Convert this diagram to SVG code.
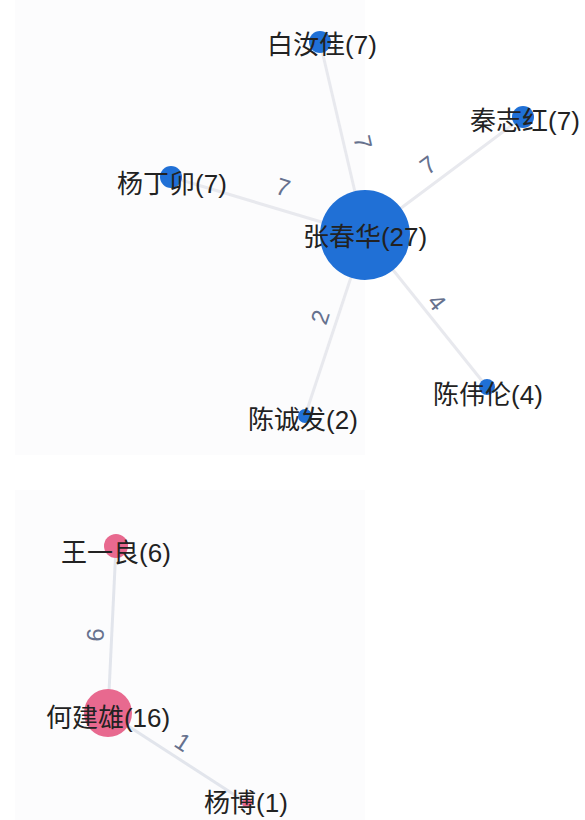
<svg xmlns="http://www.w3.org/2000/svg" width="585" height="820" viewBox="0 0 585 820">
<style>
.bg{fill:#fcfcfd}
.edge{stroke:#e8e9ee;stroke-width:3;fill:none}
.edge2{stroke:#e2e5ec;stroke-width:3;fill:none}
.blue{fill:#2070d6}
.pink{fill:#e8698f}
.lbl{font-family:"Liberation Sans","Noto Sans CJK SC",sans-serif;font-size:26px;fill:#222;text-anchor:middle;dominant-baseline:central}
.elbl{font-family:"Liberation Sans","Noto Sans CJK SC",sans-serif;font-size:24px;fill:#66718e;text-anchor:middle;dominant-baseline:central}
</style>
<rect width="585" height="820" fill="#ffffff"/>
<rect class="bg" x="15" y="0" width="350" height="455"/>
<rect class="bg" x="15" y="490" width="350" height="330"/>
<g id="connectors">
  <line class="edge" x1="365" y1="235" x2="320" y2="42"/>
  <line class="edge" x1="365" y1="235" x2="523" y2="117"/>
  <line class="edge" x1="365" y1="235" x2="171" y2="177"/>
  <line class="edge" x1="365" y1="235" x2="305" y2="416"/>
  <line class="edge" x1="365" y1="235" x2="487" y2="387"/>
  <line class="edge2" x1="116" y1="546" x2="108" y2="713"/>
  <line class="edge2" x1="108" y1="713" x2="247" y2="803"/>
  <text class="elbl" transform="translate(363,142) rotate(77)">7</text>
  <text class="elbl" transform="translate(428,165) rotate(-37)">7</text>
  <text class="elbl" transform="translate(283,187) rotate(17)">7</text>
  <text class="elbl" transform="translate(320,317) rotate(-72)">2</text>
  <text class="elbl" transform="translate(437,302) rotate(51)">4</text>
  <text class="elbl" transform="translate(95,635) rotate(-87)">6</text>
  <text class="elbl" transform="translate(183,742) rotate(33)">1</text>
</g>
<g id="n-zhangchunhua">
  <circle class="blue" cx="365" cy="235" r="45"/>
  <text class="lbl" x="365" y="237">张春华(27)</text>
</g>
<g id="n-bairujia">
  <circle class="blue" cx="320" cy="42" r="11"/>
  <text class="lbl" x="322" y="45">白汝佳(7)</text>
</g>
<g id="n-qinzhihong">
  <circle class="blue" cx="523" cy="117" r="11"/>
  <text class="lbl" x="525" y="121">秦志红(7)</text>
</g>
<g id="n-yangdingmao">
  <circle class="blue" cx="171" cy="177" r="11"/>
  <text class="lbl" x="172" y="184">杨丁卯(7)</text>
</g>
<g id="n-chenchengfa">
  <circle class="blue" cx="305" cy="416" r="7"/>
  <text class="lbl" x="303" y="420">陈诚发(2)</text>
</g>
<g id="n-chenweilun">
  <circle class="blue" cx="487" cy="387" r="8"/>
  <text class="lbl" x="488" y="395">陈伟伦(4)</text>
</g>
<g id="n-wangyiliang">
  <circle class="pink" cx="116" cy="546" r="12"/>
  <text class="lbl" x="116" y="553">王一良(6)</text>
</g>
<g id="n-hejianxiong">
  <circle class="pink" cx="108" cy="713" r="24"/>
  <text class="lbl" x="108" y="718">何建雄(16)</text>
</g>
<g id="n-yangbo">
  <circle class="pink" cx="247" cy="803" r="5"/>
  <text class="lbl" x="246" y="803">杨博(1)</text>
</g>
</svg>
